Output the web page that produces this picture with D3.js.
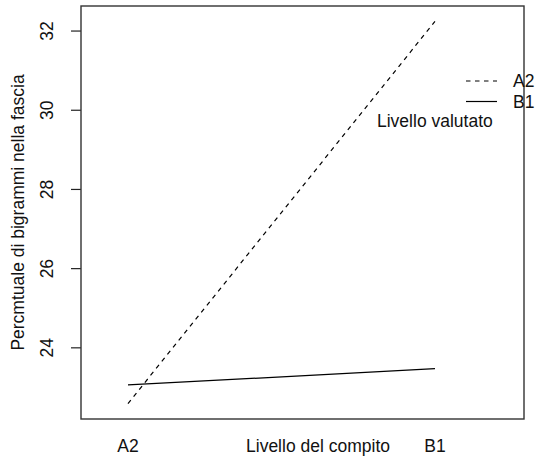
<!DOCTYPE html>
<html>
<head>
<meta charset="utf-8">
<script src="https://cdn.jsdelivr.net/npm/d3@7"></script>
<style>
  body { margin: 0; background: #fff; }
  svg text { font-family: "Liberation Sans", Arial, sans-serif; font-size: 17.5px; fill: #111; }
</style>
</head>
<body>
<svg id="chart" width="535" height="462"></svg>
<script>
// task level on the x axis, rated level as the traced factor
const taskLevels = ["A2", "B1"];
const ratedLevels = ["A2", "B1"];
const ratedA2 = [22.58, 32.23];
const ratedB1 = [23.05, 23.46];
const yTicks = [24, 26, 28, 30, 32];

const series = [
  { name: ratedLevels[0], values: ratedA2, dash: "4.5,4.5" },
  { name: ratedLevels[1], values: ratedB1, dash: null }
];

const svg = d3.select("#chart");
const box = { left: 81, right: 524, top: 6, bottom: 419 };

// x runs 1..n with extra room on the right for the legend (as R's interaction.plot)
const x = d3.scaleLinear().domain([0.847, 2.29]).range([box.left, box.right]);
const y = d3.scaleLinear().domain([22.19, 32.62]).range([box.bottom, box.top]);

const line = d3.line()
  .x((d, i) => x(i + 1))
  .y(d => y(d));

svg.selectAll("path.series")
  .data(series)
  .enter().append("path")
    .attr("class", "series")
    .attr("d", d => line(d.values))
    .attr("fill", "none")
    .attr("stroke", "#000")
    .attr("stroke-width", 1.2)
    .attr("stroke-dasharray", d => d.dash);

// y axis with rotated labels
const yAxis = svg.append("g")
  .attr("transform", "translate(" + box.left + ",0)")
  .call(d3.axisLeft(y).tickValues(yTicks).tickSize(10));
yAxis.select(".domain").remove();
yAxis.selectAll(".tick line").attr("stroke", "#222").attr("stroke-width", 1.2);
yAxis.selectAll(".tick text")
  .attr("x", 0)
  .attr("y", -28)
  .attr("dy", null)
  .attr("transform", "rotate(-90)")
  .attr("text-anchor", "middle")
  .attr("font-size", null)
  .attr("font-family", null)
  .attr("fill", null);

// x labels, no ticks
svg.selectAll("text.xlab")
  .data(taskLevels)
  .enter().append("text")
    .attr("class", "xlab")
    .attr("x", (d, i) => x(i + 1))
    .attr("y", 452)
    .attr("text-anchor", "middle")
    .text(d => d);

svg.append("text")
  .attr("x", 318)
  .attr("y", 452)
  .attr("text-anchor", "middle")
  .text("Livello del compito");

svg.append("text")
  .attr("transform", "translate(24," + ((box.top + box.bottom) / 2) + ") rotate(-90)")
  .attr("text-anchor", "middle")
  .text("Percmtuale di bigrammi nella fascia");

// plot frame
svg.append("rect")
  .attr("x", box.left)
  .attr("y", box.top)
  .attr("width", box.right - box.left)
  .attr("height", box.bottom - box.top)
  .attr("fill", "none")
  .attr("stroke", "#333")
  .attr("stroke-width", 1.4);

// legend
const legend = svg.append("g");
const entry = legend.selectAll("g")
  .data(series)
  .enter().append("g")
    .attr("transform", (d, i) => "translate(0," + (81 + i * 20.5) + ")");
entry.append("line")
  .attr("x1", 466).attr("x2", 497)
  .attr("stroke", "#000")
  .attr("stroke-width", 1.2)
  .attr("stroke-dasharray", d => d.dash);
entry.append("text")
  .attr("x", 513)
  .attr("y", 6.3)
  .text(d => d.name);
legend.append("text")
  .attr("x", 377)
  .attr("y", 126.5)
  .text("Livello valutato");
</script>
</body>
</html>
